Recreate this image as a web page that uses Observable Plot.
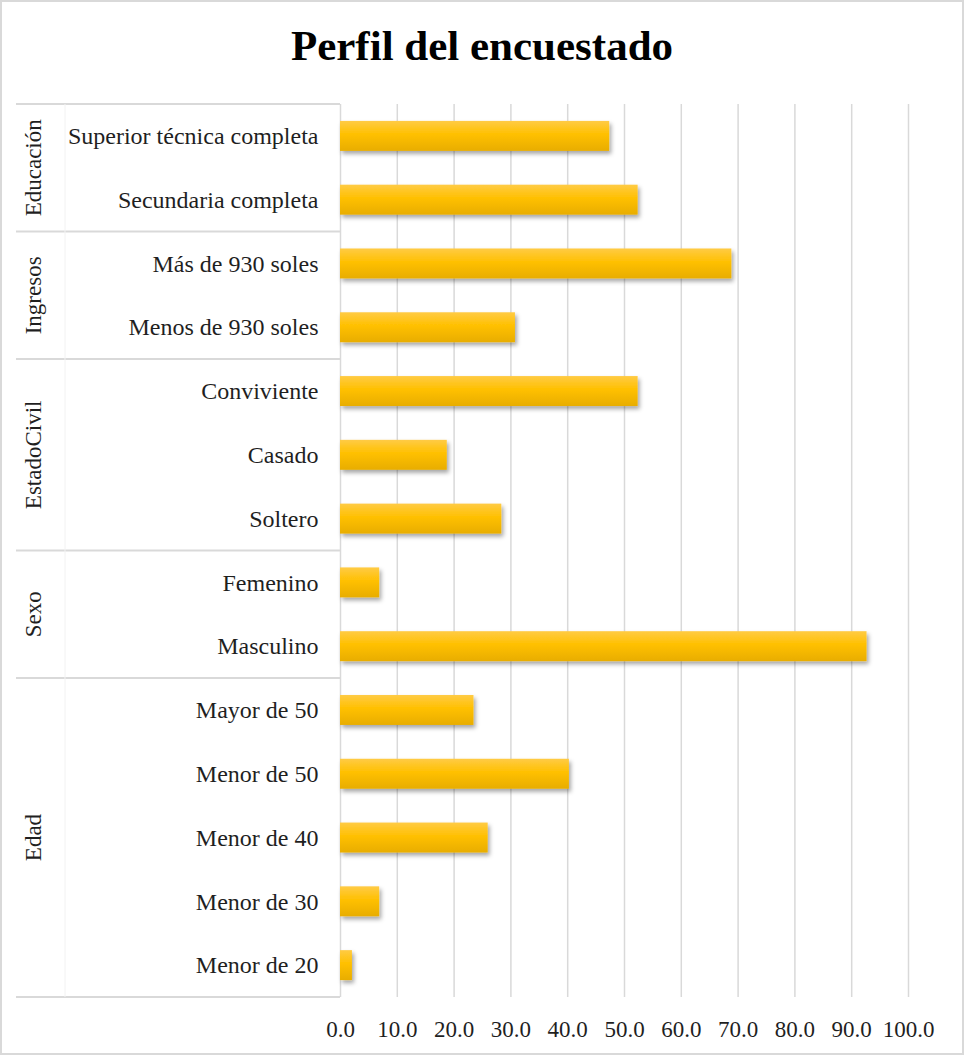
<!DOCTYPE html>
<html>
<head>
<meta charset="utf-8">
<script src="https://cdn.jsdelivr.net/npm/d3@7"></script>
<script src="https://cdn.jsdelivr.net/npm/@observablehq/plot@0.6"></script>
<style>
  html, body { margin: 0; padding: 0; background: #fff; }
  #wrap { position: relative; width: 964px; height: 1055px; overflow: hidden; background: #fff; }
  #frame { position: absolute; left: 0; top: 0; width: 964px; height: 1055px; box-sizing: border-box; border: 2px solid #d9d9d9; pointer-events: none; }
  #title { position: absolute; left: 0; top: 20px; width: 964px; text-align: center;
           font-family: "Liberation Serif", "Times New Roman", serif; font-weight: bold; font-size: 43px; color: #000; line-height: 52px; }
  #chart { position: absolute; left: 0; top: 0; }
</style>
</head>
<body>
<div id="wrap">
  <div id="chart"></div>
  <div id="title">Perfil del encuestado</div>
  <div id="frame"></div>
</div>
<script>
// ---- data (top to bottom) ----
const categories = [
  "Superior técnica completa", "Secundaria completa",
  "Más de 930 soles", "Menos de 930 soles",
  "Conviviente", "Casado", "Soltero",
  "Femenino", "Masculino",
  "Mayor de 50", "Menor de 50", "Menor de 40", "Menor de 30", "Menor de 20"
];
const values = [47.4, 52.4, 68.9, 30.8, 52.4, 18.8, 28.4, 6.9, 92.7, 23.5, 40.3, 26.0, 6.9, 2.1];
const groupOf = [
  "Educación", "Educación",
  "Ingresos", "Ingresos",
  "EstadoCivil", "EstadoCivil", "EstadoCivil",
  "Sexo", "Sexo",
  "Edad", "Edad", "Edad", "Edad", "Edad"
];
const groups = ["Educación", "Ingresos", "EstadoCivil", "Sexo", "Edad"];
const xTicks = [0, 10, 20, 30, 40, 50, 60, 70, 80, 90, 100];

const data = categories.map((c, i) => ({category: c, value: values[i], group: groupOf[i]}));

const chart = Plot.plot({
  width: 964,
  height: 1055,
  marginTop: 104,
  marginBottom: 58,
  marginLeft: 340,
  marginRight: 56,
  style: {fontFamily: "'Liberation Serif', 'Times New Roman', serif", fontSize: "24px", color: "#1f1f1f", background: "transparent", overflow: "visible"},
  x: {domain: [0, 100], label: null},
  y: {domain: categories, paddingInner: 0.53, paddingOuter: 0.265, round: false, label: null},
  marks: [
    Plot.gridX(xTicks.filter(d => d > 0), {stroke: "#d9d9d9", strokeOpacity: 1, strokeWidth: 1.5}),
    Plot.ruleX([0], {stroke: "#d9d9d9", strokeWidth: 1.5}),
    Plot.barX(data, {y: "category", x: "value", fill: "#FFC000", className: "gbar"}),
    Plot.axisX({ticks: xTicks, tickFormat: d3.format(".1f"), tickSize: 0, tickPadding: 23, fill: "#1f1f1f", fontSize: 23, label: null}),
    Plot.axisY({tickSize: 0, tickPadding: 22, fill: "#1f1f1f", fontSize: 24, label: null})
  ]
});
document.getElementById("chart").appendChild(chart);

// ---- gradient + shadow for bars ----
const svg = d3.select(chart);
const defs = svg.insert("defs", ":first-child");
const grad = defs.append("linearGradient").attr("id", "barGrad").attr("x1", 0).attr("y1", 0).attr("x2", 0).attr("y2", 1);
grad.append("stop").attr("offset", "0%").attr("stop-color", "#FFCB45");
grad.append("stop").attr("offset", "45%").attr("stop-color", "#FFC000");
grad.append("stop").attr("offset", "100%").attr("stop-color", "#E8AD00");
const filt = defs.append("filter").attr("id", "barShadow").attr("x", "-10%").attr("y", "-30%").attr("width", "130%").attr("height", "180%");
filt.append("feDropShadow").attr("dx", 2).attr("dy", 3).attr("stdDeviation", 2).attr("flood-color", "#000").attr("flood-opacity", 0.35);
svg.selectAll("g.gbar").attr("filter", "url(#barShadow)");
svg.selectAll("g.gbar rect").attr("fill", "url(#barGrad)");

// ---- grouped category axis: separators + rotated group labels ----
const ys = chart.scale("y");
const xs = chart.scale("x");
const yband = d3.scaleBand().domain(ys.domain).range(ys.range).paddingInner(ys.paddingInner ?? 0.53).paddingOuter(ys.paddingOuter ?? 0.265);
const step = yband.step();
const bw = yband.bandwidth();
const rowTop = c => yband(c) - (step - bw) / 2;
const rowBottom = c => yband(c) + bw + (step - bw) / 2;
const x0 = xs.apply ? xs.apply(0) : 340;
const g = svg.append("g");
const bounds = [];
groups.forEach(gr => {
  const members = categories.filter((c, i) => groupOf[i] === gr);
  const top = rowTop(members[0]);
  const bottom = rowBottom(members[members.length - 1]);
  bounds.push(top, bottom);
  g.append("text")
    .attr("transform", `translate(33,${(top + bottom) / 2}) rotate(-90)`)
    .attr("text-anchor", "middle")
    .attr("dy", "0.35em")
    .attr("fill", "#1f1f1f")
    .style("font-family", "'Liberation Serif', 'Times New Roman', serif")
    .style("font-size", "23px")
    .text(gr);
});
Array.from(new Set(bounds.map(b => Math.round(b * 10) / 10))).forEach(b => {
  g.append("line").attr("x1", 16).attr("x2", x0).attr("y1", b).attr("y2", b)
    .attr("stroke", "#d9d9d9").attr("stroke-width", 2);
});
g.append("line").attr("x1", 65).attr("x2", 65).attr("y1", d3.min(bounds)).attr("y2", d3.max(bounds))
  .attr("stroke", "#f2f2f2").attr("stroke-width", 1);
</script>
</body>
</html>
